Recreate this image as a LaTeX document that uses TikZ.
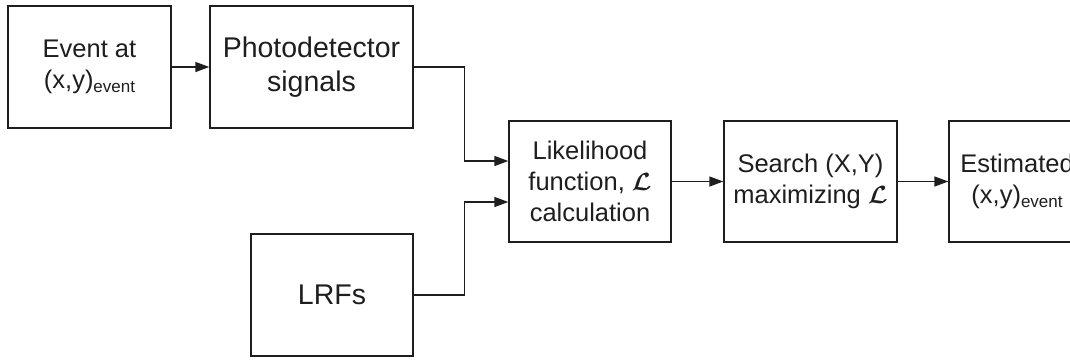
\documentclass[tikz,border=0pt]{standalone}
\usepackage{fontspec}
\setmainfont{Liberation Sans}
\usepackage{amsmath,bm}
\usetikzlibrary{arrows.meta,positioning,calc}
\definecolor{ink}{HTML}{1E1E1E}
\newcommand{\evt}{\raisebox{-0.3ex}{\fontsize{17}{17}\selectfont event}}
\newcommand{\lhood}{$\bm{\mathcal{L}}$}

\begin{document}
\begin{tikzpicture}[x=1pt,y=-1pt,
  blk/.style={draw=ink,line width=1.4pt,inner sep=0pt,align=center,font=\fontsize{25.5}{31}\selectfont,text=ink},
  bigtxt/.style={font=\fontsize{28.5}{34}\selectfont},
  flow/.style={draw=ink,line width=1.4pt,-{Triangle[length=14pt,width=10pt]}}]
\useasboundingbox (0,0) rectangle (1070,359);
% blocks
\node[blk,minimum width=163,minimum height=122] (ev)  at (89.5,67)   {Event at\\(x,y)\evt};
\node[blk,bigtxt,minimum width=203,minimum height=122] (pd)  at (311.5,67)  {Photodetector\\signals};
\node[blk,bigtxt,minimum width=162,minimum height=122] (lrf) at (332,295)   {LRFs};
\node[blk,minimum width=162,minimum height=121] (lk)  at (590,181.5) {Likelihood\\function, \lhood\\calculation};
\node[blk,minimum width=173,minimum height=121] (sr)  at (810.5,181.5) {Search (X,Y)\\maximizing \lhood};
\node[blk,minimum width=136,minimum height=121] (es)  at (1017,181.5) {Estimated\\(x,y)\evt};
% inputs of the likelihood block
\coordinate (lkin1) at ($(lk.west)+(0,-20.5)$);
\coordinate (lkin2) at ($(lk.west)+(0,20.5)$);
% connectors
\draw[flow] (ev) -- (pd);
\draw[flow] (pd.east) -- ++(51,0) |- (lkin1);
\draw[flow] (lrf.east) -- ++(51,0) |- (lkin2);
\draw[flow] (lk) -- (sr);
\draw[flow] (sr) -- (es);
\end{tikzpicture}
\end{document}
